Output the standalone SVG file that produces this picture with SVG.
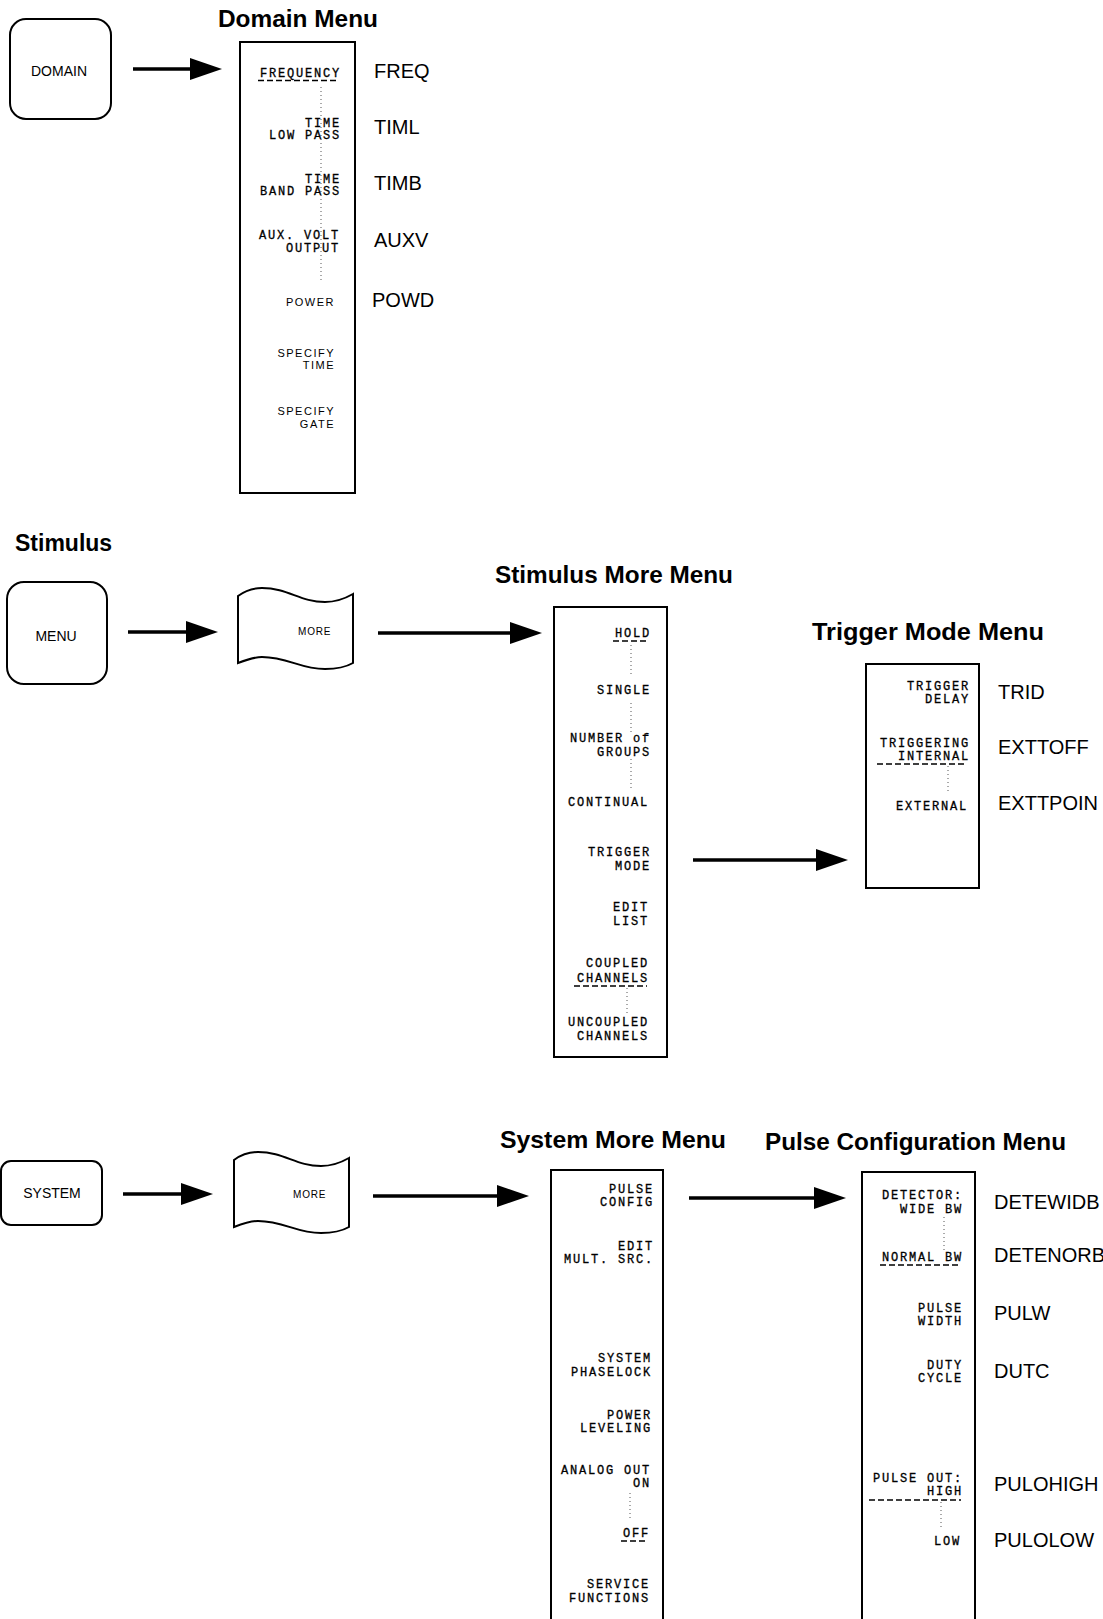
<svg xmlns="http://www.w3.org/2000/svg" width="1103" height="1619" viewBox="0 0 1103 1619">
<style>
.bg{fill:#fff}
.key{fill:#fff;stroke:#000;stroke-width:2}
.menu{fill:#fff;stroke:#000;stroke-width:2}
.keyt{font-family:"Liberation Sans",Arial,sans-serif;font-size:14px;text-anchor:middle;fill:#000}
.moret{font-family:"Liberation Sans",Arial,sans-serif;font-size:10px;letter-spacing:0.8px;fill:#000}
.title{font-family:"Liberation Sans",Arial,sans-serif;font-size:24px;font-weight:bold;fill:#000}
.sk{font-family:"Liberation Mono","DejaVu Sans Mono",monospace;font-size:12px;letter-spacing:1.8px;text-anchor:end;fill:#000;stroke:#000;stroke-width:0.3px}
.sks{font-family:"Liberation Sans",Arial,sans-serif;font-size:11px;letter-spacing:1.5px;text-anchor:end;fill:#000}
.mn{font-family:"Liberation Sans",Arial,sans-serif;font-size:20px;fill:#000}
.dot{stroke:#555;stroke-width:1;stroke-dasharray:1 3;fill:none}
.dash{stroke:#000;stroke-width:1.3;stroke-dasharray:6 3;fill:none}
.conn line{stroke:#000;stroke-width:3.5;fill:none}
</style>
<defs>
<marker id="ah" viewBox="0 0 32 22" refX="20" refY="11" markerWidth="32" markerHeight="22" markerUnits="userSpaceOnUse" orient="auto">
<path d="M0,0 L32,11 L0,22 Z" fill="#000"/>
</marker>
<path id="flag" d="M0,0 C8,-6 16,-8 24,-8 C50,-8 62,6 87,6 C100,6 108,2 115,-2 L115,67 C108,71 100,73 87,73 C62,73 50,61 24,61 C16,61 8,64 0,67 Z"/>
</defs>
<rect class="bg" x="0" y="0" width="1103" height="1619"/>

<!-- Titles -->
<text class="title" x="218" y="27" textLength="160" lengthAdjust="spacingAndGlyphs">Domain Menu</text>
<text class="title" x="15" y="551" style="font-size:23px">Stimulus</text>
<text class="title" x="495" y="583" textLength="238" lengthAdjust="spacingAndGlyphs">Stimulus More Menu</text>
<text class="title" x="812" y="640" textLength="232" lengthAdjust="spacingAndGlyphs">Trigger Mode Menu</text>
<text class="title" x="500" y="1148" textLength="226" lengthAdjust="spacingAndGlyphs">System More Menu</text>
<text class="title" x="765" y="1150" textLength="301" lengthAdjust="spacingAndGlyphs">Pulse Configuration Menu</text>

<!-- Hard keys -->
<g id="key-domain">
<rect class="key" x="10" y="19" width="101" height="100" rx="16"/>
<text class="keyt" x="59" y="76">DOMAIN</text>
</g>
<g id="key-menu">
<rect class="key" x="7" y="582" width="100" height="102" rx="17"/>
<text class="keyt" x="56" y="641">MENU</text>
</g>
<g id="key-system">
<rect class="key" x="1" y="1161" width="101" height="64" rx="10"/>
<text class="keyt" x="52" y="1198">SYSTEM</text>
</g>

<!-- MORE softkeys -->
<g id="more-stimulus">
<use href="#flag" x="238" y="596" fill="#fff" stroke="#000" stroke-width="2"/>
<text class="moret" x="298" y="635">MORE</text>
</g>
<g id="more-system">
<use href="#flag" x="234" y="1160" fill="#fff" stroke="#000" stroke-width="2"/>
<text class="moret" x="293" y="1198">MORE</text>
</g>

<!-- Domain Menu -->
<g id="menu-domain">
<rect class="menu" x="240" y="42" width="115" height="451"/>
<line class="dot" x1="321" y1="87" x2="321" y2="283"/>
<text class="sk" x="341" y="77">FREQUENCY</text>
<line class="dash" x1="258" y1="80.5" x2="339" y2="80.5"/>
<text class="sk" x="341" y="127">TIME</text>
<text class="sk" x="341" y="139">LOW PASS</text>
<text class="sk" x="341" y="183">TIME</text>
<text class="sk" x="341" y="195">BAND PASS</text>
<text class="sk" x="340" y="239">AUX. VOLT</text>
<text class="sk" x="340" y="252">OUTPUT</text>
<text class="sks" x="335" y="306">POWER</text>
<text class="sks" x="335" y="357">SPECIFY</text>
<text class="sks" x="335" y="369">TIME</text>
<text class="sks" x="335" y="415">SPECIFY</text>
<text class="sks" x="335" y="428">GATE</text>
<text class="mn" x="374" y="78">FREQ</text>
<text class="mn" x="374" y="134">TIML</text>
<text class="mn" x="374" y="190">TIMB</text>
<text class="mn" x="374" y="247">AUXV</text>
<text class="mn" x="372" y="307">POWD</text>
</g>

<!-- Stimulus More Menu -->
<g id="menu-stimulus-more">
<rect class="menu" x="554" y="607" width="113" height="450"/>
<text class="sk" x="651" y="637">HOLD</text>
<line class="dash" x1="613" y1="641" x2="649" y2="641"/>
<line class="dot" x1="631" y1="645" x2="631" y2="676"/>
<text class="sk" x="651" y="694">SINGLE</text>
<line class="dot" x1="631" y1="703" x2="631" y2="732"/>
<text class="sk" x="651" y="742">NUMBER of</text>
<text class="sk" x="651" y="756">GROUPS</text>
<line class="dot" x1="631" y1="759" x2="631" y2="790"/>
<text class="sk" x="649" y="806">CONTINUAL</text>
<text class="sk" x="651" y="856">TRIGGER</text>
<text class="sk" x="651" y="870">MODE</text>
<text class="sk" x="649" y="911">EDIT</text>
<text class="sk" x="649" y="925">LIST</text>
<text class="sk" x="649" y="967">COUPLED</text>
<text class="sk" x="649" y="982">CHANNELS</text>
<line class="dash" x1="574" y1="986" x2="647" y2="986"/>
<line class="dot" x1="627" y1="988" x2="627" y2="1014"/>
<text class="sk" x="649" y="1026">UNCOUPLED</text>
<text class="sk" x="649" y="1040">CHANNELS</text>
</g>

<!-- Trigger Mode Menu -->
<g id="menu-trigger-mode">
<rect class="menu" x="866" y="664" width="113" height="224"/>
<text class="sk" x="970" y="690">TRIGGER</text>
<text class="sk" x="970" y="703">DELAY</text>
<text class="sk" x="970" y="747">TRIGGERING</text>
<text class="sk" x="970" y="760">INTERNAL</text>
<line class="dash" x1="877" y1="764" x2="966" y2="764"/>
<line class="dot" x1="948" y1="766" x2="948" y2="794"/>
<text class="sk" x="968" y="810">EXTERNAL</text>
<text class="mn" x="998" y="699">TRID</text>
<text class="mn" x="998" y="754">EXTTOFF</text>
<text class="mn" x="998" y="810">EXTTPOIN</text>
</g>

<!-- System More Menu -->
<g id="menu-system-more">
<path class="menu" d="M551,1640 L551,1170 L663,1170 L663,1640"/>
<text class="sk" x="654" y="1193">PULSE</text>
<text class="sk" x="654" y="1206">CONFIG</text>
<text class="sk" x="654" y="1250">EDIT</text>
<text class="sk" x="654" y="1263">MULT. SRC.</text>
<text class="sk" x="652" y="1362">SYSTEM</text>
<text class="sk" x="652" y="1376">PHASELOCK</text>
<text class="sk" x="652" y="1419">POWER</text>
<text class="sk" x="652" y="1432">LEVELING</text>
<text class="sk" x="651" y="1474">ANALOG OUT</text>
<text class="sk" x="651" y="1487">ON</text>
<line class="dot" x1="630" y1="1493" x2="630" y2="1520"/>
<text class="sk" x="650" y="1537">OFF</text>
<line class="dash" x1="621" y1="1541" x2="648" y2="1541"/>
<text class="sk" x="650" y="1588">SERVICE</text>
<text class="sk" x="650" y="1602">FUNCTIONS</text>
</g>

<!-- Pulse Configuration Menu -->
<g id="menu-pulse-config">
<path class="menu" d="M862,1640 L862,1172 L975,1172 L975,1640"/>
<text class="sk" x="963" y="1199">DETECTOR:</text>
<text class="sk" x="963" y="1213">WIDE BW</text>
<line class="dot" x1="944" y1="1217" x2="944" y2="1250"/>
<text class="sk" x="963" y="1261">NORMAL BW</text>
<line class="dash" x1="880" y1="1265" x2="961" y2="1265"/>
<text class="sk" x="963" y="1312">PULSE</text>
<text class="sk" x="963" y="1325">WIDTH</text>
<text class="sk" x="963" y="1369">DUTY</text>
<text class="sk" x="963" y="1382">CYCLE</text>
<text class="sk" x="963" y="1482">PULSE OUT:</text>
<text class="sk" x="963" y="1495">HIGH</text>
<line class="dash" x1="869" y1="1500" x2="961" y2="1500"/>
<line class="dot" x1="941" y1="1502" x2="941" y2="1530"/>
<text class="sk" x="961" y="1545">LOW</text>
<text class="mn" x="994" y="1209">DETEWIDB</text>
<text class="mn" x="994" y="1262">DETENORB</text>
<text class="mn" x="994" y="1320">PULW</text>
<text class="mn" x="994" y="1378">DUTC</text>
<text class="mn" x="994" y="1491">PULOHIGH</text>
<text class="mn" x="994" y="1547">PULOLOW</text>
</g>

<!-- Connectors -->
<g class="conn" id="connectors">
<line x1="133" y1="69" x2="210" y2="69" marker-end="url(#ah)"/>
<line x1="128" y1="632" x2="206" y2="632" marker-end="url(#ah)"/>
<line x1="378" y1="633" x2="530" y2="633" marker-end="url(#ah)"/>
<line x1="693" y1="860" x2="836" y2="860" marker-end="url(#ah)"/>
<line x1="123" y1="1194" x2="201" y2="1194" marker-end="url(#ah)"/>
<line x1="373" y1="1196" x2="517" y2="1196" marker-end="url(#ah)"/>
<line x1="689" y1="1198" x2="834" y2="1198" marker-end="url(#ah)"/>
</g>
</svg>
